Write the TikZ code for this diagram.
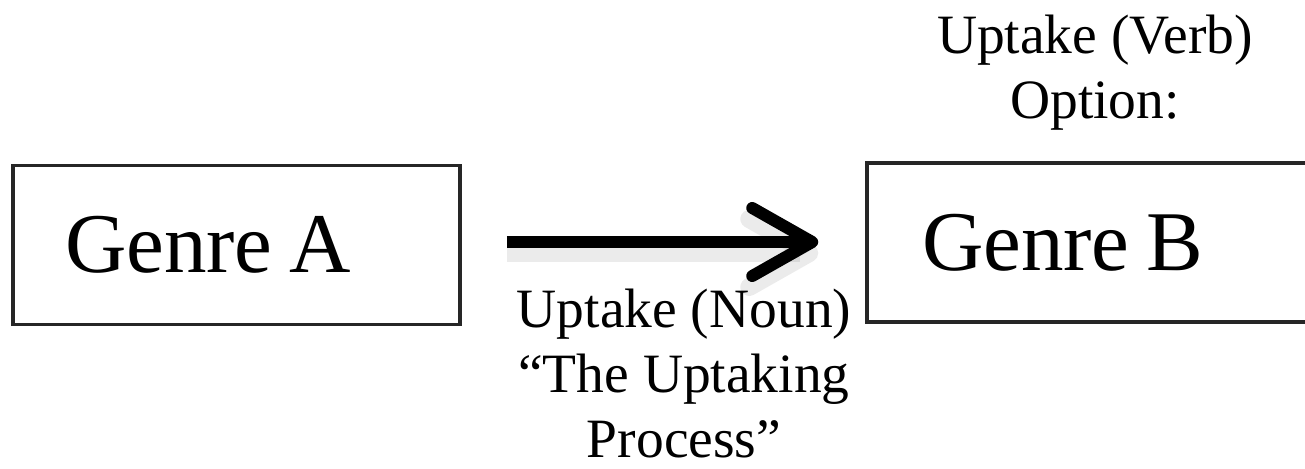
\documentclass[tikz,border=0pt]{standalone}
\usepackage{fontspec}
\setmainfont{Liberation Serif}
\usetikzlibrary{arrows.meta}
\begin{document}
\begin{tikzpicture}[x=1pt,y=1pt,
  genrebox/.style={draw=black!85, line width=3.5pt, minimum height=159pt,
    inner xsep=0pt, inner ysep=0pt, align=left,
    font=\fontsize{85}{90}\selectfont},
  lbl/.style={align=center, inner sep=0pt, font=\fontsize{55.5}{65}\selectfont},
  uparrow/.style={line width=12pt, shorten <=45pt, shorten >=47pt,
    -{Straight Barb[length=60pt,width=68pt,round]}}]
\clip (0,0) rectangle (1305,468);
\fill[white] (0,0) rectangle (1305,468);
% boxes
\node[genrebox, minimum width=447pt, text width=343pt] (A) at (236.5,223) {Genre\hspace{0.2em}A};
\node[genrebox, minimum width=463pt, text width=353pt] (B) at (1098.5,225.5) {Genre\hspace{0.2em}B};
% arrow shadow and arrow
\draw[uparrow, black, opacity=0.08, line width=18pt] ([yshift=-8pt]A.east) -- ([yshift=-8pt]A.east -| B.west);
\draw[uparrow] ([yshift=3pt]A.east) -- ([yshift=3pt]A.east -| B.west);
% labels
\node[lbl] (verb) at (1095,395.5) {Uptake (Verb)\\Option:};
\node[lbl] (noun) at (684,94.5) {Uptake (Noun)\\``The Uptaking\\Process''};
\end{tikzpicture}
\end{document}
